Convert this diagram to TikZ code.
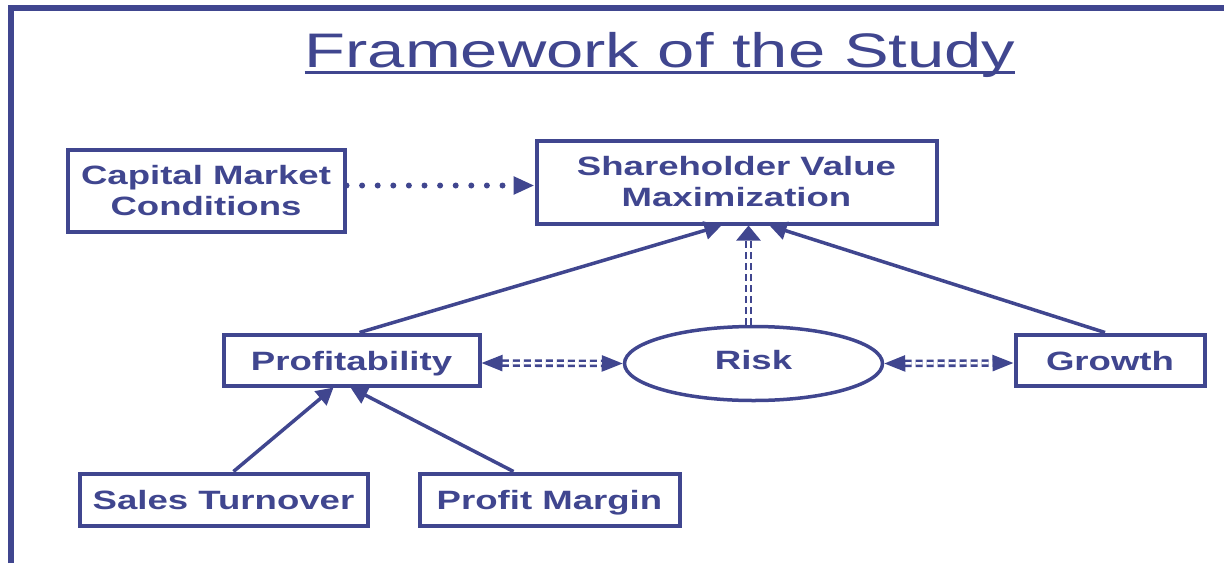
\documentclass[tikz,border=0pt]{standalone}
\usepackage{fontspec}
\setmainfont{Liberation Sans}[FakeStretch=1.38]
\usetikzlibrary{arrows.meta,shapes.geometric}
\definecolor{frame}{RGB}{64,70,143}

\begin{document}
\begin{tikzpicture}[
    x = 1pt, y = -1pt,
    block/.style = {
        draw = frame,
        rectangle,
        line width = 4pt,
        inner sep = 0pt,
        align = center,
        text = frame,
        font = \fontsize{26.5pt}{31pt}\selectfont\bfseries
    },
    oneline/.style = {text height = 22pt, text depth = 2pt},
    oval/.style = {block, ellipse, line width = 3.5pt, text height = 19pt, text depth = 8pt},
    solidarrow/.style = {draw = frame, line width = 3.5pt, -{Triangle[length = 17pt, width = 18pt]}},
    dotarrow/.style = {draw = frame, line width = 6pt, line cap = round,
        dash pattern = on 0pt off 15.6pt, -{Triangle[length = 21pt, width = 17pt]}},
    dasharrow/.style = {draw = frame, line width = 2.6pt, double = white, double distance = 2.4pt,
        dash pattern = on 7pt off 4pt, -{Triangle[length = 21pt, width = 16pt]}},
    vdasharrow/.style = {dasharrow, -{Triangle[length = 15pt, width = 24pt]}}
]
\useasboundingbox (0, 0) rectangle (1224, 563);

% Frame
\draw[frame, line width = 6pt] (11, 563) -- (11, 7.5) -- (1224, 7.5);

% Title
\node[anchor = base, inner sep = 0pt, text = frame, font = \fontsize{48.5pt}{50pt}\selectfont]
    (title) at (660, 67) {Framework of the Study};
\draw[frame, line width = 3pt] ([yshift = -5pt]title.base west) -- ([yshift = -5pt]title.base east);

% Boxes
\node[block, minimum width = 277pt, minimum height = 82pt] (cap) at (206, 190.5) {Capital Market\\Conditions};
\node[block, minimum width = 400pt, minimum height = 83pt] (svm) at (736.5, 182) {Shareholder Value\\Maximization};
\node[block, oneline, minimum width = 256pt, minimum height = 51pt] (prof) at (351.5, 360) {Profitability};
\node[oval, minimum width = 258pt, minimum height = 74pt] (risk) at (753.5, 363.5) {Risk};
\node[block, oneline, minimum width = 189pt, minimum height = 51pt] (growth) at (1110, 360) {Growth};
\node[block, oneline, minimum width = 288pt, minimum height = 52pt] (sales) at (223.5, 499.5) {Sales Turnover};
\node[block, oneline, minimum width = 260pt, minimum height = 52pt] (margin) at (549.5, 499.5) {Profit Margin};

% Links into shareholder value
\coordinate (capout) at ([yshift = 5pt]cap.east);
\draw[dotarrow] (capout) -- (capout -| svm.west);
\draw[solidarrow] ([xshift = 8pt]prof.north) -- ([xshift = -15pt]svm.south);
\draw[solidarrow] ([xshift = -5pt]growth.north) -- ([xshift = 33pt]svm.south);
\draw[vdasharrow] ([xshift = -5pt]risk.north) -- ([xshift = -5pt]risk.north |- svm.south);

% Risk links
\draw[dasharrow, {Triangle[length = 21pt, width = 16pt]}-{Triangle[length = 21pt, width = 16pt]}]
    ([yshift = -3pt]prof.east) -- (risk.west);
\draw[dasharrow, {Triangle[length = 21pt, width = 16pt]}-{Triangle[length = 21pt, width = 16pt]}]
    (risk.east) -- ([yshift = -3pt]growth.west);

% Drivers of profitability
\draw[solidarrow] ([xshift = 10pt]sales.north) -- ([xshift = -18pt]prof.south);
\draw[solidarrow] ([xshift = -36pt]margin.north) -- ([xshift = -1pt]prof.south);

\end{tikzpicture}
\end{document}
